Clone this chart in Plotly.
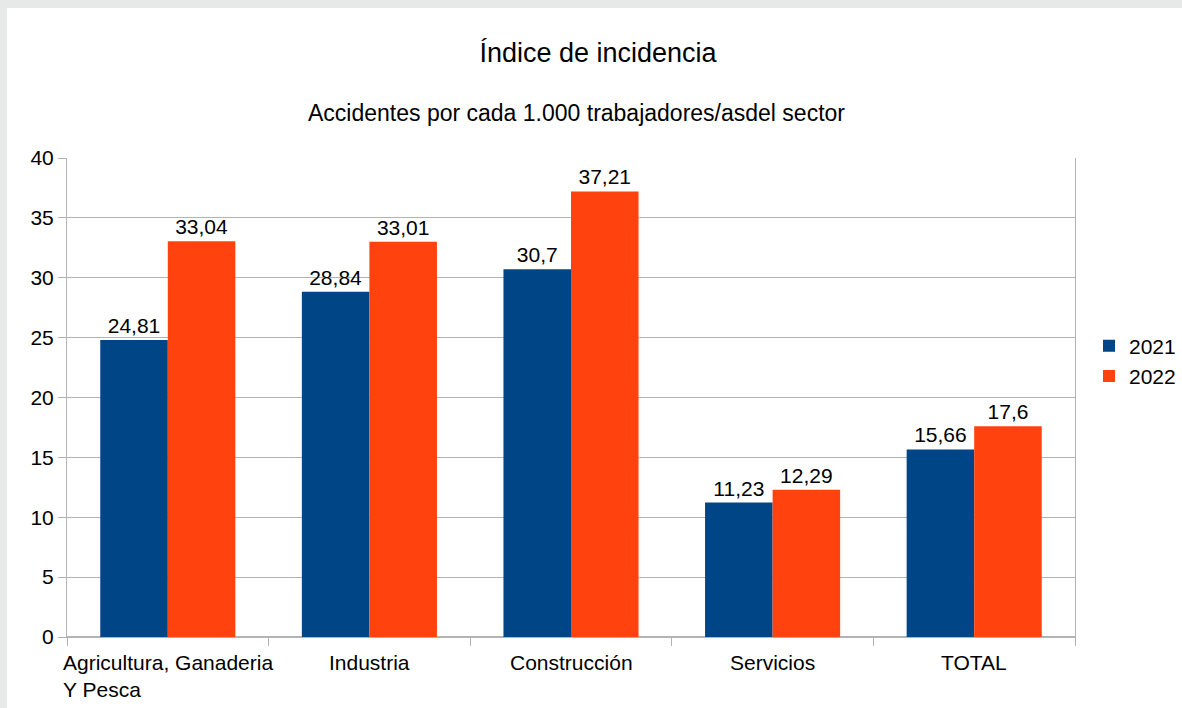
import plotly.graph_objects as go

# data
sectores = ["Agricultura, Ganaderia<br>Y Pesca", "Industria", "Construcción", "Servicios", "TOTAL"]
valores_2021 = [24.81, 28.84, 30.7, 11.23, 15.66]
valores_2022 = [33.04, 33.01, 37.21, 12.29, 17.6]
etiquetas_2021 = ["24,81", "28,84", "30,7", "11,23", "15,66"]
etiquetas_2022 = ["33,04", "33,01", "37,21", "12,29", "17,6"]

W, H = 1182, 708
ML, MR, MT, MB = 67, 107, 158, 71
PW, PH = W - ML - MR, H - MT - MB
FONT = "Liberation Sans, Arial, sans-serif"
GRID = "#b3b3b3"


def px_x(p):
    return (p - ML) / PW


def px_y(p):
    return (H - MB - p) / PH


fig = go.Figure()
fig.add_trace(go.Bar(
    x=sectores, y=valores_2021, name="2021",
    marker=dict(color="#004586", line_width=0),
    text=etiquetas_2021, textposition="outside",
    textfont=dict(size=21, color="black"),
))
fig.add_trace(go.Bar(
    x=sectores, y=valores_2022, name="2022",
    marker=dict(color="#ff420e", line_width=0),
    text=etiquetas_2022, textposition="outside",
    textfont=dict(size=21, color="black"),
))

# category labels, lines left-aligned like the original
for s in sectores:
    fig.add_annotation(
        x=s, y=0, xref="x", yref="paper", text=s, showarrow=False,
        xanchor="center", yanchor="top", align="left", yshift=-12,
        font=dict(size=21, color="black"),
    )

fig.add_annotation(
    x=598 / W, y=px_y(113), xref="paper", yref="paper", xanchor="center", yanchor="middle",
    text="Accidentes por cada 1.000 trabajadores/asdel sector", showarrow=False,
    font=dict(size=23, color="black"),
)

# grey frame of the screenshot
fig.add_shape(type="rect", xref="paper", yref="paper", x0=px_x(0), x1=px_x(W), y0=px_y(0), y1=px_y(8),
              fillcolor="#e6e9e8", line_width=0, layer="below")
fig.add_shape(type="rect", xref="paper", yref="paper", x0=px_x(0), x1=px_x(7), y0=px_y(0), y1=px_y(H),
              fillcolor="#e6e9e8", line_width=0, layer="below")

fig.update_layout(
    width=W, height=H,
    margin=dict(l=ML, r=MR, t=MT, b=MB, autoexpand=False),
    paper_bgcolor="white", plot_bgcolor="white",
    font=dict(family=FONT, size=21, color="black"),
    title=dict(text="Índice de incidencia", x=598 / W, xref="container", xanchor="center",
               y=1 - 53 / H, yref="container", yanchor="middle",
               font=dict(size=27, color="black")),
    barmode="group", bargap=0.33, bargroupgap=0,
    showlegend=True,
    legend=dict(x=px_x(1089), y=px_y(361), xanchor="left", yanchor="middle",
                font=dict(size=21, color="black"), bgcolor="rgba(0,0,0,0)"),
)
fig.update_yaxes(
    range=[0, 40], dtick=5, showgrid=True, gridcolor=GRID, gridwidth=1,
    showline=True, linecolor=GRID, mirror=True, zeroline=True, zerolinecolor=GRID,
    ticks="outside", ticklen=8, tickcolor=GRID, tickfont=dict(size=21, color="black"),
)
fig.update_xaxes(
    range=[-0.5, len(sectores) - 0.5],
    showline=True, linecolor=GRID, ticks="outside", ticklen=8, tickcolor=GRID,
    tickson="boundaries", showticklabels=False, showgrid=False,
)

fig.write_html("out.html", config={"displayModeBar": False},
               post_script="document.body.style.margin='0';")
